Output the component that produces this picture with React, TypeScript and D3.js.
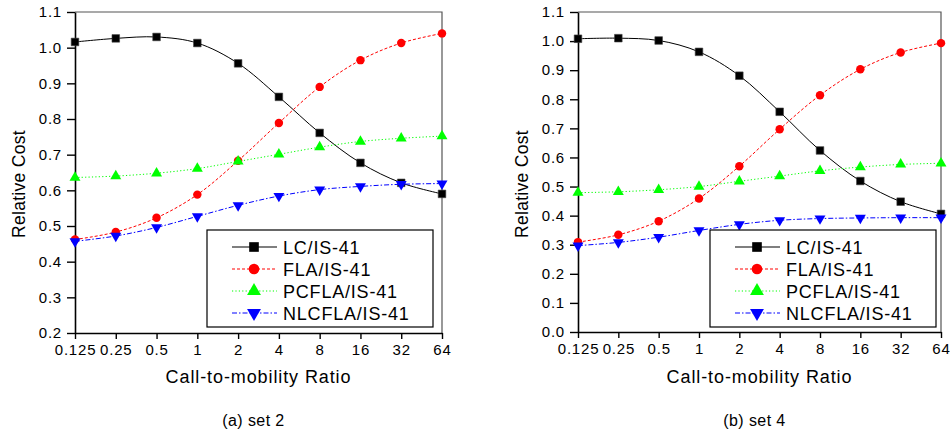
import React, { useEffect, useRef } from 'react';
import * as d3 from 'd3';

const ratios = [0.125, 0.25, 0.5, 1, 2, 4, 8, 16, 32, 64];
const ratioLabels = ['0.125', '0.25', '0.5', '1', '2', '4', '8', '16', '32', '64'];
const seriesNames = ['LC/IS-41', 'FLA/IS-41', 'PCFLA/IS-41', 'NLCFLA/IS-41'];

// set 2
const set2LC = [1.016, 1.026, 1.030, 1.013, 0.956, 0.862, 0.761, 0.677, 0.621, 0.590];
const set2FLA = [0.462, 0.483, 0.523, 0.588, 0.683, 0.789, 0.890, 0.965, 1.013, 1.040];
const set2PCFLA = [0.636, 0.640, 0.648, 0.661, 0.681, 0.701, 0.721, 0.737, 0.746, 0.752];
const set2NLCFLA = [0.457, 0.472, 0.496, 0.527, 0.558, 0.584, 0.602, 0.611, 0.617, 0.619];
const set2Ticks = [0.2, 0.3, 0.4, 0.5, 0.6, 0.7, 0.8, 0.9, 1.0, 1.1];

// set 4
const set4LC = [1.008, 1.010, 1.002, 0.963, 0.881, 0.757, 0.624, 0.519, 0.448, 0.406];
const set4FLA = [0.309, 0.334, 0.381, 0.459, 0.570, 0.697, 0.814, 0.903, 0.961, 0.993];
const set4PCFLA = [0.479, 0.482, 0.489, 0.500, 0.518, 0.536, 0.554, 0.567, 0.576, 0.580];
const set4NLCFLA = [0.297, 0.308, 0.326, 0.349, 0.370, 0.384, 0.390, 0.392, 0.393, 0.393];
const set4Ticks = [0.0, 0.1, 0.2, 0.3, 0.4, 0.5, 0.6, 0.7, 0.8, 0.9, 1.0, 1.1];

const styles = [
  { color: '#000000', dash: null, symbol: d3.symbolSquare, size: 58, rotate: 0, legendLine: '#555' },
  { color: '#ff0000', dash: '3,2', symbol: d3.symbolCircle, size: 56, rotate: 0, legendLine: '#ff0000' },
  { color: '#00ff00', dash: '1.2,2.2', symbol: d3.symbolTriangle, size: 52, rotate: 0, legendLine: '#00ff00' },
  { color: '#0000ff', dash: '5,2,1.5,2', symbol: d3.symbolTriangle, size: 52, rotate: 180, legendLine: '#0000ff' },
];

const FONT = '"Liberation Sans", Arial, sans-serif';

const App = () => {
  const svgRef = useRef<SVGSVGElement>(null);

  useEffect(() => {
    if (!svgRef.current) return;
    const svg = d3.select(svgRef.current);
    svg.selectAll('*').remove();

    const panels = [
      { left: 75, right: 442, top: 12, bottom: 333, ticks: set2Ticks, series: [set2LC, set2FLA, set2PCFLA, set2NLCFLA], caption: '(a) set 2' },
      { left: 578, right: 941, top: 12, bottom: 332, ticks: set4Ticks, series: [set4LC, set4FLA, set4PCFLA, set4NLCFLA], caption: '(b) set 4' },
    ];

    panels.forEach((p) => {
      const x = d3.scaleLog().base(2).domain([ratios[0], ratios[ratios.length - 1]]).range([p.left, p.right]);
      const y = d3.scaleLinear().domain([p.ticks[0], p.ticks[p.ticks.length - 1]]).range([p.bottom, p.top]);
      const g = svg.append('g');

      // frame top/right
      g.append('path')
        .attr('d', `M${p.left},${p.top}H${p.right}V${p.bottom}`)
        .attr('fill', 'none')
        .attr('stroke', '#555')
        .attr('stroke-width', 1.2);

      // y axis
      const yAxis = g.append('g')
        .attr('transform', `translate(${p.left},0)`)
        .call(d3.axisLeft(y).tickValues(p.ticks).tickFormat(d3.format('.1f')).tickSize(8).tickSizeOuter(0).tickPadding(5));
      yAxis.select('.domain').attr('stroke-width', 1.6);
      yAxis.selectAll('line').attr('stroke-width', 1.4);
      yAxis.selectAll('text').attr('font-size', 15).attr('font-family', FONT).attr('letter-spacing', 0.8).attr('fill', '#000');

      // x axis
      const xAxis = g.append('g')
        .attr('transform', `translate(0,${p.bottom})`)
        .call(d3.axisBottom(x).tickValues(ratios).tickFormat((d, i) => ratioLabels[i]).tickSize(6).tickSizeOuter(0).tickPadding(5));
      xAxis.select('.domain').attr('stroke-width', 1.6);
      xAxis.selectAll('line').attr('stroke-width', 1.4);
      xAxis.selectAll('text').attr('font-size', 15).attr('font-family', FONT).attr('letter-spacing', 0.8).attr('fill', '#000');

      // series
      p.series.forEach((vals, si) => {
        const st = styles[si];
        const line = d3.line<number>()
          .x((d, i) => x(ratios[i]))
          .y((d) => y(d))
          .curve(d3.curveCatmullRom);
        g.append('path')
          .datum(vals)
          .attr('d', line)
          .attr('fill', 'none')
          .attr('stroke', st.color)
          .attr('stroke-width', 1)
          .attr('stroke-dasharray', st.dash);
        const sym = d3.symbol().type(st.symbol).size(st.size);
        g.selectAll(null)
          .data(vals)
          .join('path')
          .attr('d', sym)
          .attr('transform', (d, i) => `translate(${x(ratios[i])},${y(d)}) rotate(${st.rotate})`)
          .attr('fill', st.color)
          .attr('stroke', si === 0 ? '#444' : 'none')
          .attr('stroke-width', 0.6);
      });

      // legend
      const lx = p.left + 132;
      const ly = 230;
      g.append('rect')
        .attr('x', lx)
        .attr('y', ly)
        .attr('width', 226)
        .attr('height', 97)
        .attr('fill', '#fff')
        .attr('stroke', '#000')
        .attr('stroke-width', 1.2);
      seriesNames.forEach((name, si) => {
        const st = styles[si];
        const ry = ly + 17 + si * 22;
        g.append('line')
          .attr('x1', lx + 25)
          .attr('x2', lx + 70)
          .attr('y1', ry)
          .attr('y2', ry)
          .attr('stroke', st.legendLine)
          .attr('stroke-width', si === 0 ? 1.4 : 1)
          .attr('stroke-dasharray', st.dash);
        g.append('path')
          .attr('d', d3.symbol().type(st.symbol).size(st.size * 1.6)())
          .attr('transform', `translate(${lx + 47},${ry}) rotate(${st.rotate})`)
          .attr('fill', st.color);
        g.append('text')
          .attr('x', lx + 76)
          .attr('y', ry + 7)
          .attr('font-size', 18)
          .attr('font-family', FONT)
          .attr('letter-spacing', 0.8)
          .text(name);
      });

      // axis titles
      const cx = (p.left + p.right) / 2;
      g.append('text')
        .attr('x', cx)
        .attr('y', 383)
        .attr('text-anchor', 'middle')
        .attr('font-size', 18)
        .attr('font-family', FONT)
        .attr('letter-spacing', 0.9)
        .text('Call-to-mobility Ratio');
      g.append('text')
        .attr('transform', `translate(${p.left - 50},184) rotate(-90)`)
        .attr('text-anchor', 'middle')
        .attr('font-size', 17.5)
        .attr('font-family', FONT)
        .attr('letter-spacing', 0.3)
        .text('Relative Cost');
      g.append('text')
        .attr('x', cx - 5)
        .attr('y', 426)
        .attr('text-anchor', 'middle')
        .attr('font-size', 16)
        .attr('font-family', FONT)
        .attr('letter-spacing', 0.4)
        .text(p.caption);
    });
  }, []);

  return (
    <div style={{ position: 'absolute', left: 0, top: 0, background: '#fff' }}>
      <svg ref={svgRef} width={950} height={437} viewBox="0 0 950 437" style={{ display: 'block' }}></svg>
    </div>
  );
};

export default App;
